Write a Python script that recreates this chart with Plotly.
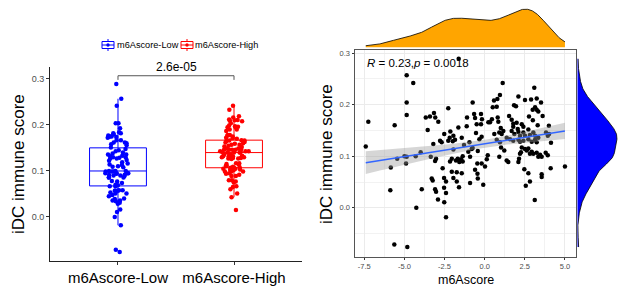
import numpy as np
import plotly.graph_objects as go

W, H = 619, 288

# ---------------- data ----------------
m6a_score = [
    -7.41, -7.25, -5.61, -4.86, -4.45, -4.86, -4.86, -5.00, -5.85, -5.45, -4.86, -4.30, -4.90, -3.99,
    -5.88, -5.63, -4.82, -4.26, -3.92,
    -0.75, 0.58, 0.79, 0.50, 0.75, -2.27, -3.67, -3.41, -3.16, -3.08, -2.89, -1.10, -0.66, -0.23,
    -0.60, -0.17, 0.81, -0.50, -0.23, 0.23, 0.33, -3.55, -1.64, -2.14, -2.52, -2.18, -1.95, -2.27,
    -1.99, -1.85, -2.78, -2.68, -3.20, -1.43, -0.54, -0.33, -0.19, 0.60, 0.91, 0.75, -1.29, -1.95,
    -1.02, -0.91, -0.81, -0.75, -1.37, -1.68, -1.47, -1.79, -1.58, -1.37, -2.16, -2.05, -3.03, -3.09,
    -3.36, -2.62, -2.05, -1.74, -1.43, -0.46, -0.19, -0.60, 0.02, -3.30, -3.24, -2.53, -2.41, -1.95,
    -1.74, -0.91, -0.43, -0.09, -3.09, -2.53,
    -3.03, -2.91, -2.52, -2.41, -2.41, -1.60, -1.62, -0.45, -0.43, -1.12, -0.95,
    3.09, 0.95, 2.10, 2.51, 2.89, 3.24, 1.83, 1.95, 3.14, 3.24, 2.99, 3.34, 2.76, 3.61, 1.52, 1.68,
    0.85, 1.78, 1.99, 1.78, 2.06, 2.31, 2.41, 1.00, 1.16, 1.06, 1.68, 1.85, 2.10, 2.20, 2.41, 2.51,
    2.72, 3.03, 3.14, 3.34, 2.82, 3.82, 3.93, 4.01, 4.13,
    1.37, 1.58, 1.78, 2.10, 2.20, 2.41, 2.72, 2.93, 3.14, 3.24,
    0.95, 1.02, 1.22,
    2.31, 2.51, 2.62, 2.72, 2.93, 2.82, 3.03, 3.24, 3.34, 3.45, 2.26, 2.20, 2.14, 2.10,
    3.80, 3.93, 3.55, 0.91, 1.47, 1.37, 2.47, 2.72, 3.55, 3.55, 4.11, 5.00, 2.82, 2.56,
    3.12, 1.12, 0.19, 0.13, 3.51, 4.00, 0.45, 3.00, 3.30,
]
idc_score = [
    0.119, 0.167, 0.160, 0.257, 0.242, 0.204, 0.180, 0.100, 0.078, 0.095, 0.099, 0.100, 0.086, 0.108,
    0.034, -0.071, -0.076, 0.000, 0.036,
    0.204, 0.208, 0.211, 0.195, 0.196, 0.193, 0.175, 0.177, 0.184, 0.175, 0.167, 0.175, 0.182, 0.182,
    0.174, 0.172, 0.175, 0.162, 0.162, 0.166, 0.166, 0.151, 0.156, 0.148, 0.143, 0.136, 0.140, 0.130,
    0.129, 0.132, 0.130, 0.127, 0.124, 0.136, 0.145, 0.133, 0.138, 0.143, 0.146, 0.132, 0.122, 0.113,
    0.109, 0.099, 0.114, 0.116, 0.100, 0.095, 0.094, 0.092, 0.089, 0.090, 0.090, 0.095, 0.095, 0.091,
    0.099, 0.077, 0.070, 0.069, 0.067, 0.086, 0.086, 0.074, 0.080, 0.057, 0.053, 0.058, 0.051, 0.058,
    0.051, 0.048, 0.057, 0.045, 0.036, 0.039,
    0.031, 0.016, 0.011, -0.018, 0.029, 0.040, 0.289, 0.066, 0.110, 0.158, 0.127,
    0.233, 0.219, 0.216, 0.209, 0.210, 0.212, 0.199, 0.197, 0.195, 0.190, 0.190, 0.187, 0.177, 0.178, 0.178, 0.171,
    0.167, 0.163, 0.165, 0.157, 0.153, 0.162, 0.157, 0.155, 0.149, 0.143, 0.149, 0.143, 0.147, 0.140, 0.146, 0.140,
    0.152, 0.146, 0.140, 0.136, 0.141, 0.146, 0.140, 0.143, 0.126,
    0.136, 0.133, 0.130, 0.132, 0.128, 0.130, 0.133, 0.128, 0.132, 0.127,
    0.127, 0.117, 0.111,
    0.117, 0.114, 0.111, 0.115, 0.109, 0.105, 0.105, 0.107, 0.099, 0.103, 0.108, 0.105, 0.095, 0.089,
    0.107, 0.102, 0.099, 0.099, 0.089, 0.092, 0.075, 0.067, 0.065, 0.060, 0.077, 0.080, 0.051, 0.043,
    0.015, 0.242, 0.102, 0.094, 0.204, 0.159, 0.172, 0.170, 0.160,
]
M6A_CUTOFF = 0.0
group_labels = ["m6Ascore-Low", "m6Ascore-High"]
group_colors = ["#0000FF", "#FF0000"]
left_y_ticks = [0.0, 0.1, 0.2, 0.3]
right_x_ticks = [-7.5, -5.0, -2.5, 0.0, 2.5, 5.0]
right_y_ticks = [0.0, 0.1, 0.2, 0.3]
p_value_label = "2.6e-05"
cor_label = "<i>R</i> = 0.23,<i>p</i> = 0.0018"
y_title = "iDC immune score"
x_title = "m6Ascore"

# ---------------- helpers ----------------
def fx(px):
    return px / W

def fy(py):
    return 1 - py / H

def fmt(v):
    return f"{v:.1f}"

def kde(vals, n_grid=512):
    v = np.asarray(vals, float)
    n = v.size
    sd = v.std(ddof=1)
    iqr = np.subtract(*np.percentile(v, [75, 25]))
    bw = 0.9 * min(sd, iqr / 1.34) * n ** (-0.2)
    grid = np.linspace(v.min(), v.max(), n_grid)
    d = np.exp(-0.5 * ((grid[:, None] - v[None, :]) / bw) ** 2).sum(1) / (n * bw * np.sqrt(2 * np.pi))
    return grid, d

X = np.array(m6a_score)
Y = np.array(idc_score)
low_mask = X < M6A_CUTOFF
groups = [Y[low_mask], Y[~low_mask]]

fig = go.Figure()

# ---------------- left: box + jitter ----------------
for lab, col, vals in zip(group_labels, group_colors, groups):
    fig.add_trace(go.Box(
        y=vals, x=[lab] * len(vals), name=lab,
        boxpoints="all", jitter=0.55, pointpos=0, whiskerwidth=0,
        fillcolor="rgba(255,255,255,0)", line=dict(color=col, width=1),
        marker=dict(color=col, size=4.5), xaxis="x", yaxis="y", showlegend=False,
    ))

# significance bracket
br_y, br_tick = 0.307, 0.298
fig.add_trace(go.Scatter(
    x=[group_labels[0], group_labels[0], group_labels[1], group_labels[1]],
    y=[br_tick, br_y, br_y, br_tick], mode="lines",
    line=dict(color="#555555", width=1), xaxis="x", yaxis="y", showlegend=False, hoverinfo="skip",
))

# ---------------- right: scatter + regression ----------------
fig.add_trace(go.Scatter(x=X, y=Y, mode="markers", marker=dict(color="black", size=4.5),
                         xaxis="x2", yaxis="y2", showlegend=False))

n = X.size
b1, b0 = np.polyfit(X, Y, 1)
xs = np.linspace(X.min(), X.max(), 80)
yfit = b0 + b1 * xs
resid = Y - (b0 + b1 * X)
s = np.sqrt((resid ** 2).sum() / (n - 2))
se = s * np.sqrt(1 / n + (xs - X.mean()) ** 2 / ((X - X.mean()) ** 2).sum())
tq = 1.972
fig.add_trace(go.Scatter(
    x=np.concatenate([xs, xs[::-1]]), y=np.concatenate([yfit + tq * se, (yfit - tq * se)[::-1]]),
    fill="toself", fillcolor="rgba(153,153,153,0.4)", line=dict(width=0), mode="lines",
    xaxis="x2", yaxis="y2", showlegend=False, hoverinfo="skip",
))
fig.add_trace(go.Scatter(x=xs, y=yfit, mode="lines", line=dict(color="#3366FF", width=1.5),
                         xaxis="x2", yaxis="y2", showlegend=False))

# ---------------- marginal densities ----------------
gx, dx = kde(X)
fig.add_trace(go.Scatter(x=gx, y=dx, fill="tozeroy", fillcolor="#FFA500", mode="lines",
                         line=dict(color="black", width=0.8), xaxis="x3", yaxis="y3", showlegend=False))
gy, dy = kde(Y)
fig.add_trace(go.Scatter(x=dy, y=gy, fill="tozerox", fillcolor="#0000FF", mode="lines",
                         line=dict(color="black", width=0.8), xaxis="x4", yaxis="y4", showlegend=False))

# ---------------- layout ----------------
xr2 = [-8.08, 5.67]
yr2 = [-0.0943, 0.306]
sc_top, sc_bot = 50, 256.5
minor_x = list((np.array(right_x_ticks[:-1]) + np.array(right_x_ticks[1:])) / 2) + [right_x_ticks[0] - 1.25]
minor_y = list((np.array(right_y_ticks[:-1]) + np.array(right_y_ticks[1:])) / 2) + [right_y_ticks[0] - 0.05]

tickfont_small = dict(family="Liberation Sans, Arial, sans-serif", size=7.5, color="#4D4D4D")

fig.update_layout(
    width=W, height=H, margin=dict(l=0, r=0, t=0, b=0),
    paper_bgcolor="white", plot_bgcolor="white",
    font=dict(family="Liberation Sans, Arial, sans-serif", color="black"),
    showlegend=False,
    xaxis=dict(domain=[fx(50), fx(302)], anchor="y", type="category", categoryorder="array",
               categoryarray=group_labels, range=[-0.586, 1.586], showline=True, linecolor="#222",
               linewidth=1, ticks="outside", ticklen=3, tickcolor="#333", showgrid=False, zeroline=False,
               tickfont=dict(size=15, color="black")),
    yaxis=dict(domain=[fy(261), fy(67)], anchor="x", range=[-0.0957, 0.326], tickvals=left_y_ticks,
               ticktext=[fmt(v) for v in left_y_ticks], showline=True, linecolor="#222", linewidth=1,
               ticks="outside", ticklen=3, tickcolor="#333", showgrid=False, zeroline=False,
               tickfont=dict(size=9, color="#4D4D4D")),
    xaxis2=dict(domain=[fx(355), fx(575.7)], anchor="y2", range=xr2, tickvals=right_x_ticks,
                ticktext=[fmt(v) for v in right_x_ticks], showline=True, mirror=True, linecolor="#555",
                linewidth=1, ticks="outside", ticklen=2, tickcolor="#333", showgrid=True,
                gridcolor="#EBEBEB", gridwidth=1, zeroline=False, tickfont=tickfont_small,
                minor=dict(tickvals=minor_x, showgrid=True, gridcolor="#F2F2F2", gridwidth=0.6, ticks="")),
    yaxis2=dict(domain=[fy(sc_bot), fy(sc_top)], anchor="x2", range=yr2, tickvals=right_y_ticks,
                ticktext=[fmt(v) for v in right_y_ticks], showline=True, mirror=True, linecolor="#555",
                linewidth=1, ticks="outside", ticklen=2.5, tickcolor="#333", showgrid=True,
                gridcolor="#EBEBEB", gridwidth=1, zeroline=False, tickfont=tickfont_small,
                minor=dict(tickvals=minor_y, showgrid=True, gridcolor="#F2F2F2", gridwidth=0.6, ticks="")),
    xaxis3=dict(domain=[fx(355), fx(575.7)], anchor="y3", range=xr2, visible=False),
    yaxis3=dict(domain=[fy(47.5), fy(8)], anchor="x3", range=[0, dx.max() * 1.03], visible=False),
    xaxis4=dict(domain=[fx(577.3), 1.0], anchor="y4", range=[0, dy.max() * 1.05], visible=False),
    yaxis4=dict(domain=[fy(sc_bot), fy(sc_top)], anchor="x4", range=yr2, visible=False),
)

ann = []
ann.append(dict(text=y_title, x=fx(18), y=fy(164), xref="paper", yref="paper", textangle=-90,
                showarrow=False, font=dict(size=17), xanchor="center", yanchor="middle"))
ann.append(dict(text=y_title, x=fx(326), y=fy(154), xref="paper", yref="paper", textangle=-90,
                showarrow=False, font=dict(size=17), xanchor="center", yanchor="middle"))
ann.append(dict(text=x_title, x=fx(465.5), y=fy(288), xref="paper", yref="paper",
                showarrow=False, font=dict(size=12.5), xanchor="center", yanchor="bottom", yshift=-1))
ann.append(dict(text=cor_label, x=-7.45, y=0.28, xref="x2", yref="y2", showarrow=False,
                font=dict(size=11.5), xanchor="left", yanchor="middle"))
ann.append(dict(text=p_value_label, x=0.5, y=br_y, xref="x", yref="y", showarrow=False,
                font=dict(size=12), xanchor="center", yanchor="bottom", yshift=0))

# custom legend (box glyph + label)
shapes = []
leg_y = 45
leg_items = [(102, group_labels[0], group_colors[0]), (181, group_labels[1], group_colors[1])]
for x0, lab, col in leg_items:
    shapes.append(dict(type="line", xref="paper", yref="paper", x0=fx(x0 + 6), x1=fx(x0 + 6),
                       y0=fy(39), y1=fy(51), line=dict(color=col, width=1)))
    shapes.append(dict(type="rect", xref="paper", yref="paper", x0=fx(x0), x1=fx(x0 + 12),
                       y0=fy(41.5), y1=fy(48.5), line=dict(color=col, width=1), fillcolor="white"))
    shapes.append(dict(type="line", xref="paper", yref="paper", x0=fx(x0), x1=fx(x0 + 12),
                       y0=fy(leg_y), y1=fy(leg_y), line=dict(color=col, width=1)))
    shapes.append(dict(type="circle", xref="paper", yref="paper", x0=fx(x0 + 4.3), x1=fx(x0 + 7.7),
                       y0=fy(leg_y + 1.7), y1=fy(leg_y - 1.7), line=dict(color=col, width=0), fillcolor=col))
    ann.append(dict(text=lab, x=fx(x0 + 12.5), y=fy(leg_y), xref="paper", yref="paper", showarrow=False,
                    font=dict(size=9.2), xanchor="left", yanchor="middle"))

fig.update_layout(annotations=ann, shapes=shapes)
fig.write_html("out.html", config={"displayModeBar": False},
               post_script="document.body.style.margin='0px';document.body.style.overflow='hidden';")
